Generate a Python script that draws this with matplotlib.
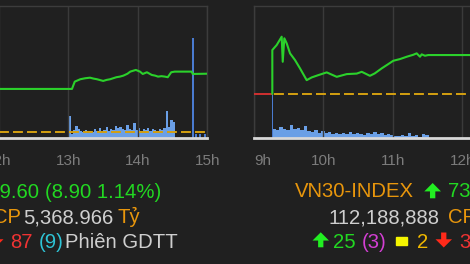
import matplotlib
matplotlib.use("Agg")
import matplotlib.pyplot as plt
import numpy as np

plt.rcParams['font.family'] = ['Liberation Sans', 'DejaVu Sans']

W, H = 470, 264
BG = '#202020'

# ---- left panel: VN-Index (hours, index points) ----
vni_ref = 780.70
vni_t = [11.5, 13.05, 13.09, 13.17, 13.24, 13.31, 13.36, 13.41, 13.50, 13.55, 13.60,
         13.69, 13.74, 13.79, 13.85, 13.89, 13.97, 14.03, 14.07, 14.13, 14.20, 14.25,
         14.29, 14.34, 14.39, 14.43, 14.48, 14.53, 14.775, 14.79, 15.0]
vni_v = [787.26, 787.26, 788.38, 788.75, 788.90, 788.99, 788.85, 788.75, 788.49, 788.65, 788.75,
         789.06, 789.15, 789.30, 789.60, 789.92, 790.18, 789.92, 789.56, 789.82, 789.41, 789.30,
         789.15, 789.22, 789.15, 789.06, 789.82, 789.92, 789.92, 789.56, 789.60]

vni_vol_t = np.arange(13.0, 14.51, 2 / 60)
vni_vol = [22, 4, 8, 12, 9, 7, 6, 8, 5, 7, 6, 9, 7, 10, 6, 8, 11, 7, 9, 8, 12, 10, 11,
           9, 8, 13, 9, 8, 15, 8, 10, 7, 9, 8, 10, 7, 9, 8, 7, 9, 8, 10, 27, 11, 18, 16]
atc_t = [14.79, 14.84, 14.90, 14.97]
atc_vol = [99.5, 4, 4, 4]

# ---- right panel: VN30-Index ----
vn30_ref = 727.50
vn30_t = [9.264, 9.264, 9.327, 9.399, 9.414, 9.437, 9.471, 9.519, 9.591, 9.663, 9.759,
          9.831, 9.927, 10.048, 10.192, 10.336, 10.48, 10.552, 10.60, 10.67, 10.74,
          10.84, 10.935, 11.007, 11.104, 11.20, 11.295, 11.344, 11.392, 11.416, 11.464,
          11.51, 12.5]
vn30_v = [727.50, 736.96, 738.04, 739.85, 734.41, 739.50, 738.41, 736.24, 734.78, 732.98, 730.43,
          731.02, 731.52, 732.11, 731.15, 731.74, 731.85, 732.24, 731.89, 731.37, 731.89,
          732.98, 733.91, 734.63, 735.00, 735.50, 735.93, 736.24, 735.50, 736.02, 735.72,
          735.87, 735.87]
ato_t = 9.264
ato_vol = 43
vn30_vol_t = np.arange(9 + 16 / 60, 11.49, 3 / 60)
vn30_vol = [9, 8, 11, 9, 8, 13, 9, 10, 8, 12, 7, 6, 8, 5, 7, 5, 6, 4, 5, 4, 5, 4, 6,
            4, 5, 4, 3, 5, 4, 6, 4, 5, 3, 4, 3, 2, 2, 3, 2, 5, 2, 3, 1, 4, 3]

fig = plt.figure(figsize=(W / 100, H / 100), dpi=100, facecolor=BG)


def make_axes(x0, x1, t0, t1, ylim, ticks, labels):
    top, bot = 6, 137.5
    ax = fig.add_axes([x0 / W, 1 - bot / H, (x1 - x0) / W, (bot - top) / H])
    ax.set_facecolor(BG)
    ax.set_xlim(t0, t1)
    ax.set_ylim(0, bot - top)
    ax.set_yticks([])
    ax.set_xticks(ticks)
    ax.set_xticklabels(labels)
    ax.tick_params(axis='x', length=0, pad=12, labelsize=11, labelcolor='#7c7c7c')
    ax.grid(axis='x', color='#3a3a3a', lw=1)
    for s in ['top', 'left', 'right']:
        ax.spines[s].set_color('#3c3c3c')
        ax.spines[s].set_linewidth(1)
    ax.spines['bottom'].set_color('#d8d8d8')
    ax.spines['bottom'].set_linewidth(2)
    axp = ax.twinx()
    axp.set_ylim(*ylim)
    axp.set_yticks([])
    axp.patch.set_visible(False)
    for s in axp.spines.values():
        s.set_visible(False)
    return ax, axp


px_h = 69.4
# left panel
x1 = 207.3
x0 = x1 - 3.5 * px_h
axL, axLp = make_axes(x0, x1, 11.5, 15.0, (779.8, 800.0), [12, 13, 14, 15],
                      ['12h', '13h', '14h', '15h'])
axL.bar(vni_vol_t, vni_vol, width=2 / 60, align='edge', color='#6a9fe6', lw=0)
axL.bar(atc_t, atc_vol, width=1.6 / 60, color='#4a7bd0', lw=0)
axLp.axhline(vni_ref, color='#d4a010', lw=1.4, dashes=(5.1, 2.1))
axLp.plot(vni_t, vni_v, color='#2bd12b', lw=1.5)

# right panel
r0 = 254
axR, axRp = make_axes(r0, r0 + 6 * px_h, 9.0, 15.0, (718.0, 746.5), [9, 10, 11, 12],
                      ['9h', '10h', '11h', '12h'])
axR.get_xticklabels()[0].set_horizontalalignment('left')
axR.bar(vn30_vol_t, vn30_vol, width=3 / 60, align='edge', color='#6a9fe6', lw=0)
axR.bar(ato_t, ato_vol, width=1.4 / 60, color='#4a7bd0', lw=0)
axRp.plot([9.0, ato_t], [vn30_ref, vn30_ref], color='#d03030', lw=1.4)
axRp.plot([ato_t + 0.02, 15.0], [vn30_ref, vn30_ref], color='#d4a010', lw=1.4,
          dashes=(5.1, 2.1))
axRp.plot(vn30_t, vn30_v, color='#2bd12b', lw=1.5)


def txt(x, y, s, c, ha='left', fs=14.6, **kw):
    fig.text(x / W, 1 - y / H, s, color=c, ha=ha, va='baseline', fontsize=fs, **kw)


def arrow(x, y, w, h, c, up=True):
    # bold arrow icon in pixel box (x, y top-left, w, h)
    pts = [(0.5, 0), (1, 0.55), (0.66, 0.55), (0.66, 1), (0.34, 1), (0.34, 0.55), (0, 0.55)]
    if not up:
        pts = [(u, 1 - v) for u, v in pts]
    xy = [((x + u * w) / W, 1 - (y + v * h) / H) for u, v in pts]
    fig.patches.append(plt.Polygon(xy, closed=True, transform=fig.transFigure,
                                   color=c, lw=0))


GREEN, ORANGE, GRAY, RED = '#22d822', '#e8960c', '#cfcfcf', '#ee3333'
ARROW_G, ARROW_R = '#22ee22', '#ff2a1a'

# left text block
txt(39, 198, '789.60', GREEN, ha='right')
txt(45, 198, '(8.90 1.14%)', GREEN)
txt(21, 223, 'CP', ORANGE, ha='right')
txt(23, 223, '5,368.966', GRAY)
txt(118, 223, 'Tỷ', ORANGE)
arrow(-13, 232.5, 16.5, 15, ARROW_R, up=False)
txt(10, 247.5, '87', RED)
txt(39, 247.5, '(9)', '#2ec4d6')
txt(65, 247.5, 'Phiên GDTT', GRAY)

# right text block
txt(295, 197, 'VN30-INDEX', ORANGE)
arrow(424.3, 183, 16.7, 15.3, ARROW_G)
txt(448, 197, '73', GREEN)
txt(329, 223, '112,188,888', GRAY)
txt(448, 223, 'CP', ORANGE)
arrow(312.5, 232.3, 16.5, 15, ARROW_G)
txt(333, 247.5, '25', GREEN)
txt(362, 247.5, '(3)', '#d33fd3')
fig.patches.append(plt.Rectangle((396 / W, 1 - 245 / H), 11 / W, 8.5 / H,
                                 transform=fig.transFigure, color='#f5f500'))
txt(417, 247.5, '2', '#f0b800')
arrow(435.5, 232.5, 16.5, 15, ARROW_R, up=False)
txt(459, 247.5, '3', RED)

fig.savefig('out.png', dpi=100, facecolor=BG)
